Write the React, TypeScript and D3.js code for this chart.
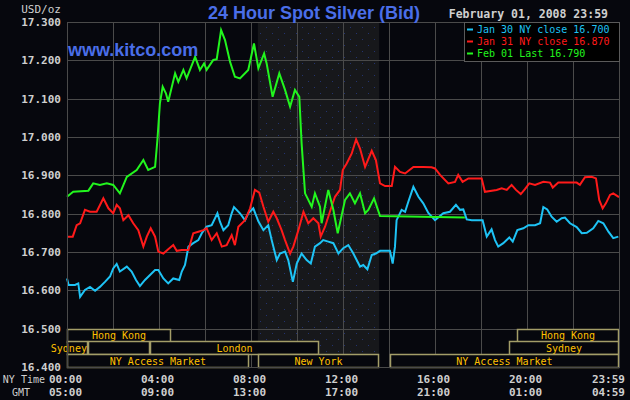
import React from 'react';
import * as d3 from 'd3';

// hour of NY day, price (USD/oz)
const jan30: [number, number][] = [
  [0, 16.631], [0.07, 16.614], [0.35, 16.614], [0.49, 16.618], [0.57, 16.583], [0.78, 16.601],
  [1.0, 16.609], [1.22, 16.599], [1.43, 16.609], [1.65, 16.622], [1.87, 16.636], [2.01, 16.657],
  [2.16, 16.669], [2.3, 16.649], [2.6, 16.662], [2.81, 16.649], [3.0, 16.627], [3.17, 16.611],
  [3.39, 16.627], [3.61, 16.64], [3.83, 16.653], [3.97, 16.653], [4.19, 16.631], [4.4, 16.618],
  [4.62, 16.631], [4.88, 16.627], [4.99, 16.649], [5.13, 16.666], [5.28, 16.714], [5.49, 16.723],
  [5.71, 16.731], [5.86, 16.749], [6.07, 16.766], [6.29, 16.77], [6.54, 16.801], [6.65, 16.779],
  [6.8, 16.757], [7.01, 16.77], [7.16, 16.801], [7.26, 16.817], [7.52, 16.801], [7.74, 16.783],
  [7.88, 16.801], [8.1, 16.814], [8.32, 16.78], [8.54, 16.757], [8.75, 16.77], [8.9, 16.731],
  [9.12, 16.679], [9.26, 16.696], [9.48, 16.701], [9.62, 16.679], [9.82, 16.622], [9.99, 16.67],
  [10.2, 16.696], [10.42, 16.679], [10.6, 16.67], [10.78, 16.714], [11.0, 16.723], [11.14, 16.731],
  [11.36, 16.727], [11.58, 16.723], [11.8, 16.696], [12.01, 16.71], [12.23, 16.718], [12.45, 16.696],
  [12.74, 16.662], [12.88, 16.666], [13.06, 16.655], [13.25, 16.692], [13.43, 16.696], [13.61, 16.703],
  [14.04, 16.703], [14.16, 16.67], [14.26, 16.714], [14.33, 16.783], [14.55, 16.81], [14.7, 16.805],
  [14.84, 16.831], [15.06, 16.87], [15.28, 16.844], [15.49, 16.827], [15.71, 16.802], [16.0, 16.783],
  [16.14, 16.79], [16.36, 16.801], [16.65, 16.805], [16.91, 16.823], [17.09, 16.81], [17.23, 16.811],
  [17.38, 16.785], [17.6, 16.783], [18.07, 16.783], [18.25, 16.74], [18.46, 16.759], [18.61, 16.731],
  [18.75, 16.714], [18.97, 16.723], [19.23, 16.738], [19.38, 16.727], [19.58, 16.757], [19.84, 16.762],
  [20.06, 16.77], [20.35, 16.77], [20.57, 16.775], [20.71, 16.817], [20.88, 16.811], [21.07, 16.792],
  [21.29, 16.779], [21.51, 16.788], [21.65, 16.79], [21.87, 16.775], [22.16, 16.765], [22.38, 16.749],
  [22.6, 16.75], [22.88, 16.762], [23.1, 16.781], [23.32, 16.775], [23.54, 16.753], [23.75, 16.736],
  [23.97, 16.74],
];

const jan31: [number, number][] = [
  [0, 16.74], [0.25, 16.74], [0.42, 16.77], [0.57, 16.775], [0.78, 16.81], [1.0, 16.805],
  [1.29, 16.805], [1.58, 16.84], [1.8, 16.814], [2.01, 16.801], [2.16, 16.823], [2.3, 16.814],
  [2.45, 16.783], [2.67, 16.796], [2.88, 16.775], [3.1, 16.757], [3.32, 16.714], [3.47, 16.74],
  [3.64, 16.762], [3.83, 16.74], [3.97, 16.701], [4.19, 16.696], [4.4, 16.707], [4.62, 16.718],
  [4.77, 16.703], [4.99, 16.705], [5.28, 16.705], [5.49, 16.749], [5.71, 16.753], [5.93, 16.757],
  [6.07, 16.762], [6.29, 16.731], [6.51, 16.749], [6.73, 16.714], [6.94, 16.718], [7.16, 16.744],
  [7.3, 16.718], [7.45, 16.766], [7.74, 16.783], [7.96, 16.814], [8.17, 16.862], [8.36, 16.855],
  [8.54, 16.818], [8.75, 16.779], [8.97, 16.805], [9.12, 16.788], [9.33, 16.757], [9.48, 16.731],
  [9.7, 16.696], [9.84, 16.714], [10.06, 16.757], [10.28, 16.805], [10.49, 16.775], [10.71, 16.788],
  [10.93, 16.775], [11.03, 16.74], [11.22, 16.766], [11.43, 16.805], [11.65, 16.844], [11.87, 16.862],
  [11.99, 16.914], [12.16, 16.931], [12.38, 16.957], [12.57, 16.994], [12.74, 16.97], [12.96, 16.922],
  [13.25, 16.964], [13.43, 16.94], [13.61, 16.879], [13.83, 16.872], [14.12, 16.872], [14.26, 16.922],
  [14.48, 16.909], [14.7, 16.905], [15.06, 16.922], [15.49, 16.922], [15.85, 16.921], [16.0, 16.918],
  [16.22, 16.901], [16.58, 16.879], [16.87, 16.883], [17.01, 16.901], [17.2, 16.883], [17.45, 16.892],
  [18.03, 16.892], [18.17, 16.857], [18.68, 16.862], [18.9, 16.866], [19.12, 16.862], [19.33, 16.875],
  [19.52, 16.862], [19.73, 16.851], [19.91, 16.864], [20.1, 16.879], [20.35, 16.875], [20.71, 16.883],
  [21.0, 16.881], [21.12, 16.868], [21.36, 16.881], [22.16, 16.881], [22.3, 16.875], [22.52, 16.895],
  [22.81, 16.896], [23.0, 16.892], [23.14, 16.836], [23.29, 16.814], [23.43, 16.827], [23.61, 16.849],
  [23.75, 16.853], [24.0, 16.843],
];

const feb01: [number, number][] = [
  [0, 16.844], [0.27, 16.857], [0.93, 16.86], [1.14, 16.879], [1.43, 16.875], [1.73, 16.879],
  [2.01, 16.875], [2.3, 16.853], [2.6, 16.896], [3.03, 16.914], [3.32, 16.94], [3.53, 16.914],
  [3.83, 16.922], [3.93, 16.992], [4.04, 17.088], [4.16, 17.131], [4.3, 17.114], [4.4, 17.092],
  [4.7, 17.166], [4.84, 17.144], [5.06, 17.175], [5.2, 17.153], [5.57, 17.209], [5.78, 17.175],
  [5.96, 17.192], [6.07, 17.175], [6.36, 17.201], [6.51, 17.203], [6.7, 17.279], [6.87, 17.253],
  [7.09, 17.196], [7.3, 17.157], [7.52, 17.153], [7.88, 17.175], [8.13, 17.244], [8.32, 17.179],
  [8.57, 17.218], [8.68, 17.192], [8.94, 17.105], [9.23, 17.166], [9.48, 17.123], [9.7, 17.079],
  [9.91, 17.123], [10.1, 17.105], [10.2, 16.984], [10.35, 16.853], [10.64, 16.818], [10.78, 16.853],
  [11.0, 16.818], [11.07, 16.775], [11.36, 16.862], [11.58, 16.81], [11.77, 16.749], [12.09, 16.836],
  [12.3, 16.853], [12.52, 16.827], [12.74, 16.853], [12.96, 16.801], [13.1, 16.81], [13.35, 16.84],
  [13.61, 16.794], [17.3, 16.79],
];

const seriesColors = ['#1ec3f5', '#ff1a1a', '#22f51e'];
const legendLabels = ['Jan 30 NY close 16.700', 'Jan 31 NY close 16.870', 'Feb 01 Last 16.790'];

const yTicks = [16.4, 16.5, 16.6, 16.7, 16.8, 16.9, 17.0, 17.1, 17.2, 17.3];
const xTicks = [0, 4, 8, 12, 16, 20, 24];
const nyLabels = ['00:00', '04:00', '08:00', '12:00', '16:00', '20:00', '23:59'];
const gmtLabels = ['05:00', '09:00', '13:00', '17:00', '21:00', '01:00', '04:59'];

// market sessions: row, start hour, end hour, label
const markets: [number, number, number, string][] = [
  [0, 0, 4.52, 'Hong Kong'],
  [0, 19.57, 24, 'Hong Kong'],
  [1, 0, 0.91, 'Sydney'],
  [1, 0.91, 3.61, ''],
  [1, 3.61, 10.96, 'London'],
  [1, 19.22, 24, 'Sydney'],
  [2, 0, 7.91, 'NY Access Market'],
  [2, 8.3, 13.57, 'New York'],
  [2, 14.04, 24, 'NY Access Market'],
];
const nySession: [number, number] = [8.3, 13.57];

const W = 630;
const H = 400;
const margin = { top: 22, right: 11, bottom: 33, left: 67 };
const mono = '"DejaVu Sans Mono", "Liberation Mono", monospace';
const sans = '"Liberation Sans", Arial, sans-serif';

export default function App() {
  const x = d3.scaleLinear().domain([0, 24]).range([margin.left, W - margin.right]);
  const y = d3.scaleLinear().domain([16.4, 17.3]).range([H - margin.bottom, margin.top]);
  const line = d3.line<[number, number]>().x(d => x(d[0])).y(d => y(d[1]));

  const rowH = (y(16.4) - y(16.5)) / 3;
  const gridX = d3.range(0, 25, 2);

  return (
    <svg width={W} height={H} style={{ position: 'absolute', left: 0, top: 0, background: '#06070d' }}>
      <defs>
        <pattern id="dots" width={12} height={12} patternUnits="userSpaceOnUse">
          <rect width={12} height={12} fill="#17181b" />
          <rect x={2} y={3} width={1} height={1} fill="#23336e" />
          <rect x={8} y={9} width={1} height={1} fill="#23336e" />
        </pattern>
      </defs>
      <rect width={W} height={H} fill="#06070d" />

      {/* NY session shading */}
      <rect x={x(nySession[0])} y={y(17.3)} width={x(nySession[1]) - x(nySession[0])} height={y(16.4) - y(17.3)} fill="url(#dots)" />

      {/* grid */}
      {yTicks.map(t => (
        <line key={'h' + t} x1={x(0)} x2={x(24)} y1={Math.round(y(t)) + 0.5} y2={Math.round(y(t)) + 0.5} stroke="#4a4a4a" />
      ))}
      {gridX.map(t => (
        <line key={'v' + t} x1={Math.round(x(t)) + 0.5} x2={Math.round(x(t)) + 0.5} y1={y(17.3)} y2={y(16.4)} stroke="#4a4a4a" />
      ))}

      {/* market session boxes */}
      {markets.map(([row, s, e, label], i) => {
        const top = y(16.5) + row * rowH;
        const w = x(e) - x(s);
        const narrow = label.length * 6 > w;
        return (
          <g key={'m' + i}>
            <rect x={Math.round(x(s)) + 0.5} y={Math.round(top) + 0.5} width={Math.round(w) - 1} height={Math.round(rowH)} fill="#06070d" stroke="#a39d68" strokeWidth={1.5} />
            <text x={narrow ? x(e) - 1 : (x(s) + x(e)) / 2} y={top + rowH / 2 + 4} textAnchor={narrow ? 'end' : 'middle'} fill="#ffc000" fontFamily={mono} fontSize={10}>{label}</text>
          </g>
        );
      })}

      {/* series */}
      {[jan30, jan31, feb01].map((s, i) => (
        <path key={'s' + i} d={line(s) || ''} fill="none" stroke={seriesColors[i]} strokeWidth={2} />
      ))}

      {/* y labels */}
      <text x={61} y={13} textAnchor="end" fill="#cfcfcf" fontFamily={mono} fontSize={11}>USD/oz</text>
      {yTicks.map(t => (
        <text key={'yl' + t} x={61} y={y(t) + 4} textAnchor="end" fill="#cfcfcf" fontFamily={mono} fontWeight="bold" fontSize={11}>{d3.format('.3f')(t)}</text>
      ))}

      {/* x labels */}
      <text x={45} y={383} textAnchor="end" fill="#cfcfcf" fontFamily={mono} fontSize={10}>NY Time</text>
      <text x={21} y={396} textAnchor="middle" fill="#cfcfcf" fontFamily={mono} fontSize={10}>GMT</text>
      {xTicks.map((t, i) => {
        const last = i === xTicks.length - 1;
        const xp = last ? 625 : x(t) - 1.5;
        return (
          <g key={'xl' + t}>
            <text x={xp} y={383} textAnchor={last ? 'end' : 'middle'} fill="#cfcfcf" fontFamily={mono} fontWeight="bold" fontSize={11}>{nyLabels[i]}</text>
            <text x={xp} y={396} textAnchor={last ? 'end' : 'middle'} fill="#cfcfcf" fontFamily={mono} fontWeight="bold" fontSize={11}>{gmtLabels[i]}</text>
          </g>
        );
      })}

      {/* plot border */}
      <rect x={x(0) + 0.5} y={y(17.3) + 0.5} width={x(24) - x(0)} height={y(16.4) - y(17.3)} fill="none" stroke="#4a4a4a" />

      {/* legend */}
      <rect x={464.5} y={22.5} width={155} height={39} fill="#000" stroke="#5a5a5a" />
      {legendLabels.map((l, i) => (
        <g key={'lg' + i}>
          <line x1={467} x2={473} y1={29.5 + i * 12} y2={29.5 + i * 12} stroke={seriesColors[i]} strokeWidth={2} />
          <text x={477} y={33 + i * 12} fill={seriesColors[i]} fontFamily={mono} fontSize={10}>{l}</text>
        </g>
      ))}

      {/* titles */}
      <text x={314} y={19} textAnchor="middle" fill="#4a6ee8" fontFamily={sans} fontWeight="bold" fontSize={18}>24 Hour Spot Silver (Bid)</text>
      <text x={608} y={18} textAnchor="end" fill="#cfcfcf" fontFamily={mono} fontWeight="bold" fontSize={11.5}>February 01, 2008 23:59</text>
      <text x={68} y={56} fill="#4a6ee8" fontFamily={sans} fontWeight="bold" fontSize={18}>www.kitco.com</text>
    </svg>
  );
}
